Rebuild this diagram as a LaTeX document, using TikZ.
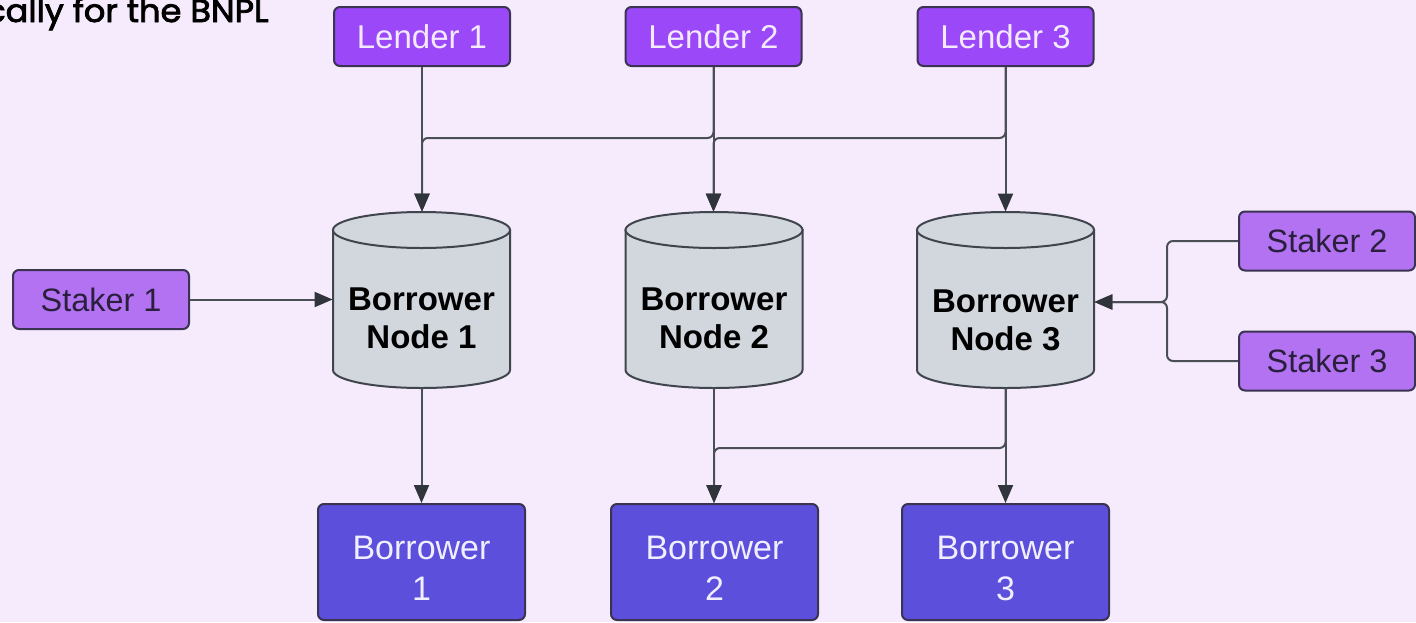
\documentclass[tikz,border=0pt]{standalone}
\usepackage{fontspec}
\setmainfont{Liberation Sans}
\newfontfamily\popfont{Poppins}[FakeBold=2.5]
\usetikzlibrary{arrows.meta}
\definecolor{bgc}{HTML}{F6EBFD}
\definecolor{lenderc}{HTML}{9A48F8}
\definecolor{lendertxt}{HTML}{F4EAFF}
\definecolor{stakerc}{HTML}{B272F2}
\definecolor{stakertxt}{HTML}{2A1F3D}
\definecolor{cylc}{HTML}{D2D6DD}
\definecolor{cyledge}{HTML}{40454D}
\definecolor{borrowc}{HTML}{5B4FDB}
\definecolor{borrowtxt}{HTML}{F0EEFF}
\definecolor{boxedge}{HTML}{3A3352}
\definecolor{linec}{HTML}{4A4F56}
\definecolor{arrowc}{HTML}{30353B}
\tikzset{
  box/.style={rectangle, rounded corners=3pt, draw=boxedge, line width=1pt, inner sep=0pt, align=center},
  lenderbox/.style={box, fill=lenderc, text=lendertxt, minimum width=88pt, minimum height=29.5pt, font=\fontsize{16.5}{19}\selectfont},
  stakerbox/.style={box, fill=stakerc, text=stakertxt, minimum width=88pt, minimum height=29.5pt, font=\fontsize{16.2}{19}\selectfont},
  borrowbox/.style={box, fill=borrowc, minimum width=103.5pt, minimum height=58pt},
  borrowtext/.style={align=center, inner sep=0pt, text=borrowtxt, font=\fontsize{17}{20.5}\selectfont},
  cylframe/.style={rectangle, minimum width=88.5pt, minimum height=88pt, inner sep=0pt},
  cyltext/.style={align=center, font=\bfseries\fontsize{16.5}{19}\selectfont, text=black, inner sep=0pt},
  cylpart/.style={fill=cylc, draw=cyledge, line width=1pt},
  link/.style={draw=linec, line width=1pt, rounded corners=3pt, -{Triangle[length=9pt,width=7.5pt,color=arrowc]}},
  captext/.style={font=\popfont\fontsize{16}{18}\selectfont, text=black, inner sep=0pt},
}
\newcommand{\mycyl}[1]{%
  \path[cylpart] ({#1-88.5},230) -- ({#1-88.5},370)
    .. controls ({#1-88.5},379.94) and ({#1-48.88},388) .. (#1,388)
    .. controls ({#1+48.88},388) and ({#1+88.5},379.94) .. ({#1+88.5},370)
    -- ({#1+88.5},230) -- cycle;
  \path[cylpart] (#1,230) ellipse [x radius=88.5, y radius=18];
}
\begin{document}
\begin{tikzpicture}[x=0.5pt,y=-0.5pt]
\useasboundingbox (0,0) rectangle (1416,622);
\fill[bgc] (0,0) rectangle (1416,622);

\node[captext, anchor=base east] (cap) at (269,22) {\scalebox{1.05}[1]{cally for the BNPL}};

% lenders
\node[lenderbox] (l1) at (422,36.5) {Lender 1};
\node[lenderbox] (l2) at (713.5,36.5) {Lender 2};
\node[lenderbox] (l3) at (1005.5,36.5) {Lender 3};

% stakers
\node[stakerbox] (s1) at (101,299.5) {Staker 1};
\node[stakerbox] (s2) at (1327,241) {Staker 2};
\node[stakerbox] (s3) at (1327,361) {Staker 3};

% cylinders
\mycyl{421.5}
\mycyl{714}
\mycyl{1005.5}
\node[cylframe] (n1) at (421.5,300) {};
\node[cylframe] (n2) at (714,300) {};
\node[cylframe] (n3) at (1005.5,300) {};
\node[cyltext] (n1t) at (421.5,318) {Borrower\\Node 1};
\node[cyltext] (n2t) at (714,318) {Borrower\\Node 2};
\node[cyltext] (n3t) at (1005.5,320) {Borrower\\Node 3};

% borrowers
\node[borrowbox] (b1) at (421.5,562) {};
\node[borrowbox] (b2) at (714.5,562) {};
\node[borrowbox] (b3) at (1005.5,562) {};
\node[borrowtext] (b1t) at (421.5,568) {Borrower\\1};
\node[borrowtext] (b2t) at (714.5,568) {Borrower\\2};
\node[borrowtext] (b3t) at (1005.5,568) {Borrower\\3};

% helper coordinates
\coordinate (busT) at (0,138);
\coordinate (busB) at (0,448);
\coordinate (sj) at (1167,302);

% lender links
\draw[link] (l1.south) -- (l1.south |- n1.north);
\draw[link] (l2.south) -- (l2.south |- busT) -- (busT -| l1.south) -- (l1.south |- n1.north);
\draw[link] (l2.south) -- (l2.south |- n2.north);
\draw[link] (l3.south) -- (l3.south |- busT) -- (busT -| l2.south) -- (l2.south |- n2.north);
\draw[link] (l3.south) -- (l3.south |- n3.north);

% staker links
\draw[link] (s1.east) -- (s1.east -| n1.west);
\draw[link] (s2.west) -- (s2.west -| sj) -- (sj) -- (sj -| n3.east);
\draw[link] (s3.west) -- (s3.west -| sj) -- (sj) -- (sj -| n3.east);

% borrower links
\draw[link] (n1.south) -- (n1.south |- b1.north);
\draw[link] (n2.south) -- (n2.south |- b2.north);
\draw[link] (n3.south) -- (n3.south |- busB) -- (busB -| n2.south) -- (n2.south |- b2.north);
\draw[link] (n3.south) -- (n3.south |- b3.north);
\end{tikzpicture}
\end{document}
